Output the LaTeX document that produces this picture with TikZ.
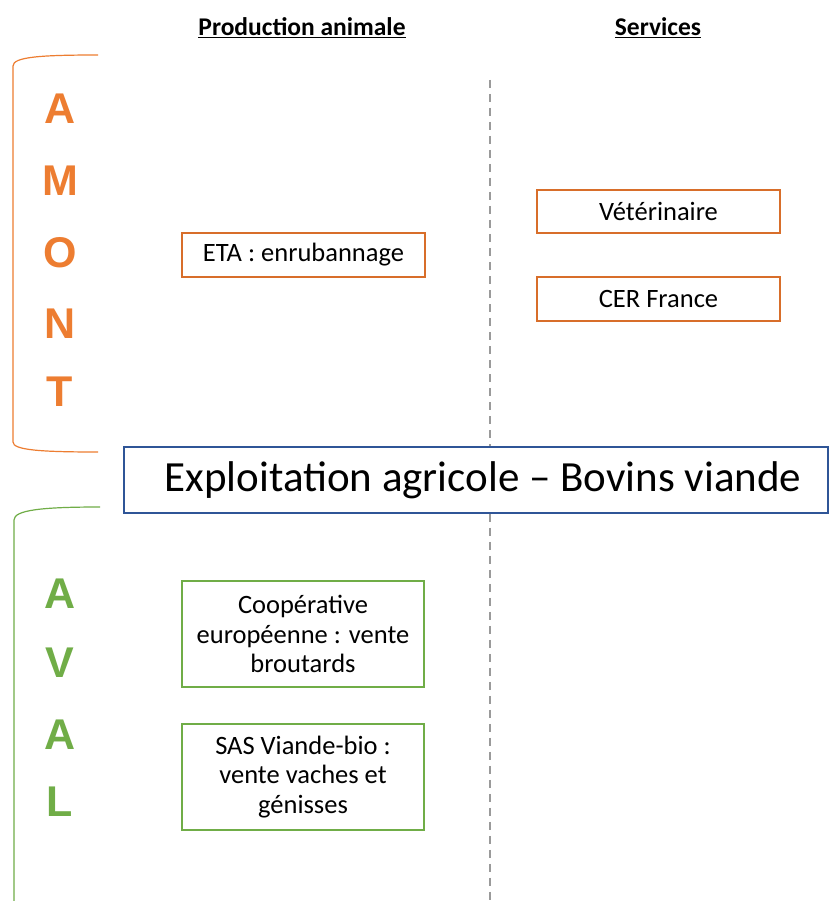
\documentclass[tikz,border=0pt]{standalone}
\usepackage{fontspec}
\setmainfont{Carlito}
\newfontfamily\letterfont{Liberation Sans}
\definecolor{amont}{HTML}{ED7D31}
\definecolor{amontbox}{HTML}{D86E2A}
\definecolor{aval}{HTML}{70AD47}
\definecolor{mainblue}{HTML}{2F5597}
\definecolor{dashgray}{HTML}{9A9A9A}
\begin{document}
\begin{tikzpicture}[x=1pt,y=-1pt,
  header/.style={font=\fontsize{25.5}{29}\selectfont\bfseries, inner sep=0pt},
  obox/.style={draw=amontbox, line width=1.4pt, fill=white, minimum width=243pt, inner sep=0pt, font=\fontsize{26.5}{30}\selectfont},
  gbox/.style={draw=aval, line width=1.4pt, fill=white, minimum width=242pt, minimum height=106pt, inner sep=0pt, align=center, font=\fontsize{26.5}{29.5}\selectfont},
  bigletter/.style={font=\letterfont\bfseries\fontsize{43}{43}\selectfont, inner sep=0pt},
  sep/.style={draw=dashgray, line width=2.4pt, dash pattern=on 8pt off 6pt}
]
\useasboundingbox (0,0) rectangle (829,901);
\fill[white] (0,0) rectangle (829,901);

% headers
\node[header] (hprod) at (302,28) {\underline{Production animale}};
\node[header] (hserv) at (658,28) {\underline{Services}};

% dashed separator
\coordinate (d1) at (490,80);
\coordinate (d4) at (490,901);

% main box
\node[draw=mainblue, line width=1.6pt, fill=white, minimum width=704pt, minimum height=66pt, inner sep=0pt,
      font=\fontsize{43}{45}\selectfont] (main) at (476,480) {\hspace{14pt}Exploitation agricole -- Bovins viande};
\draw[sep] (d1) -- (d1 |- main.north);
\draw[sep] (d4 |- main.south) -- (d4);

% AMONT boxes
\node[obox, minimum height=44pt] (eta) at (303.5,255) {ETA : enrubannage};
\node[obox, minimum height=43pt] (vet) at (658.5,211.5) {Vétérinaire};
\node[obox, minimum height=44pt] (cer) at (658.5,299) {CER France};

% AVAL boxes
\node[gbox] (coop) at (303,634) {Coopérative\\européenne : vente\\broutards};
\node[gbox] (sas) at (303,777) {SAS Viande-bio :\\vente vaches et\\génisses};

% AMONT bracket
\draw[amont, line width=1.2pt] (98,55) .. controls (40,55) and (13,57) .. (13,66) -- (13,442) .. controls (13,450) and (40,452) .. (98,452);
% AVAL bracket
\draw[aval, line width=1.2pt] (100,507) .. controls (42,507) and (14,510) .. (14,520) -- (14,901);

% AMONT letters
\node[bigletter, text=amont] (a1) at (60,109) {A};
\node[bigletter, text=amont] (m1) at (60,181) {M};
\node[bigletter, text=amont] (o1) at (60,253) {O};
\node[bigletter, text=amont] (n1) at (60,324) {N};
\node[bigletter, text=amont] (t1) at (60,392) {T};

% AVAL letters
\node[bigletter, text=aval] (a2) at (60,594) {A};
\node[bigletter, text=aval] (v2) at (60,663) {V};
\node[bigletter, text=aval] (a3) at (60,735) {A};
\node[bigletter, text=aval] (l2) at (60,802) {L};
\end{tikzpicture}
\end{document}
